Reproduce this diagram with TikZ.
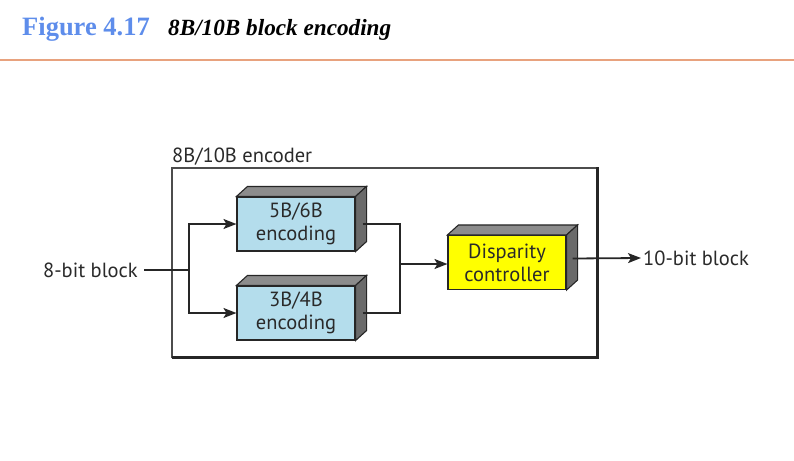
\documentclass[tikz,border=0pt]{standalone}
\usepackage{fontspec}
\setmainfont{Liberation Serif}
\newfontfamily\lblfont{PT Sans}
\usetikzlibrary{calc,arrows.meta}
\definecolor{titleblue}{HTML}{5E8DEB}
\definecolor{rulecol}{HTML}{E8A27E}
\definecolor{boxblue}{HTML}{B4DDEC}
\definecolor{boxyellow}{HTML}{FFFF00}
\definecolor{topgray}{HTML}{8C8C8C}
\definecolor{sidegray}{HTML}{6A6A6A}
\definecolor{txt}{HTML}{2A2A2A}
\begin{document}
\begin{tikzpicture}[x=1pt,y=-1pt,
  lbl/.style={font=\lblfont\fontsize{20.5}{24}\selectfont, text=txt, inner sep=0pt},
  front/.style={draw=black!85, line width=1.1pt, minimum width=118pt, minimum height=54pt,
     inner sep=0pt, align=center, font=\lblfont\fontsize{20.5}{23}\selectfont, text=txt},
  conn/.style={line width=1.8pt, black!85},
  arr/.style={conn, -{Stealth[length=13pt,width=10pt,inset=3pt]}}
]
\useasboundingbox (0,0) rectangle (794,460);
% title
\node[anchor=base west, inner sep=0pt, text=titleblue, font=\bfseries\fontsize{26.5}{30}\selectfont] (fig) at (22,36) {Figure 4.17};
\node[anchor=base west, inner sep=0pt, font=\bfseries\itshape\fontsize{23.2}{27}\selectfont] (cap) at (168,36) {8B/10B block encoding};
\draw[rulecol, line width=1.8pt] (0,60) -- (794,60);

% encoder box
\draw[line width=1.3pt, black!70] (172,358) -- (172,168) -- (597,168);
\draw[line width=3pt, black!85] (597,167) -- (597,357) -- (172,357);
\node[lbl, anchor=base west] (enclbl) at (172,162) {8B/10B encoder};

% 3D boxes
\newcommand{\threed}[4]{%
  \node[front, fill=#3] (#1) at (#2) {#4};
  \draw[draw=black!85, line width=1.1pt, fill=topgray] (#1.north west) -- ++(11,-10) -- ($(#1.north east)+(11,-10)$) -- (#1.north east) -- cycle;
  \draw[draw=black!85, line width=1.1pt, fill=sidegray] (#1.north east) -- ($(#1.north east)+(11,-10)$) -- ($(#1.south east)+(11,-10)$) -- (#1.south east) -- cycle;
}
\threed{b56}{296,224}{boxblue}{5B/6B\\encoding}
\threed{b34}{296,313}{boxblue}{3B/4B\\encoding}
\threed{dc}{507,262.5}{boxyellow}{Disparity\\controller}

% input
\node[lbl, anchor=east] (in) at (138,270) {8-bit block};
\coordinate (j1) at (189,270);
\draw[conn] ([xshift=6pt]in.east) -- (j1);
\draw[arr] (j1) |- (b56.west);
\draw[arr] (j1) |- (b34.west);

% merge
\coordinate (j2) at (400,264);
\draw[conn] ($(b56.east)+(7,0)$) -| (j2);
\draw[conn] ($(b34.east)+(7,0)$) -| (j2);
\draw[arr] (j2) -- (dc.west |- j2);

% output
\node[lbl, anchor=west] (out) at (643,258) {10-bit block};
\draw[arr] ($(dc.east)+(6,-4)$) -- ([xshift=-2pt]out.west);
\end{tikzpicture}
\end{document}
